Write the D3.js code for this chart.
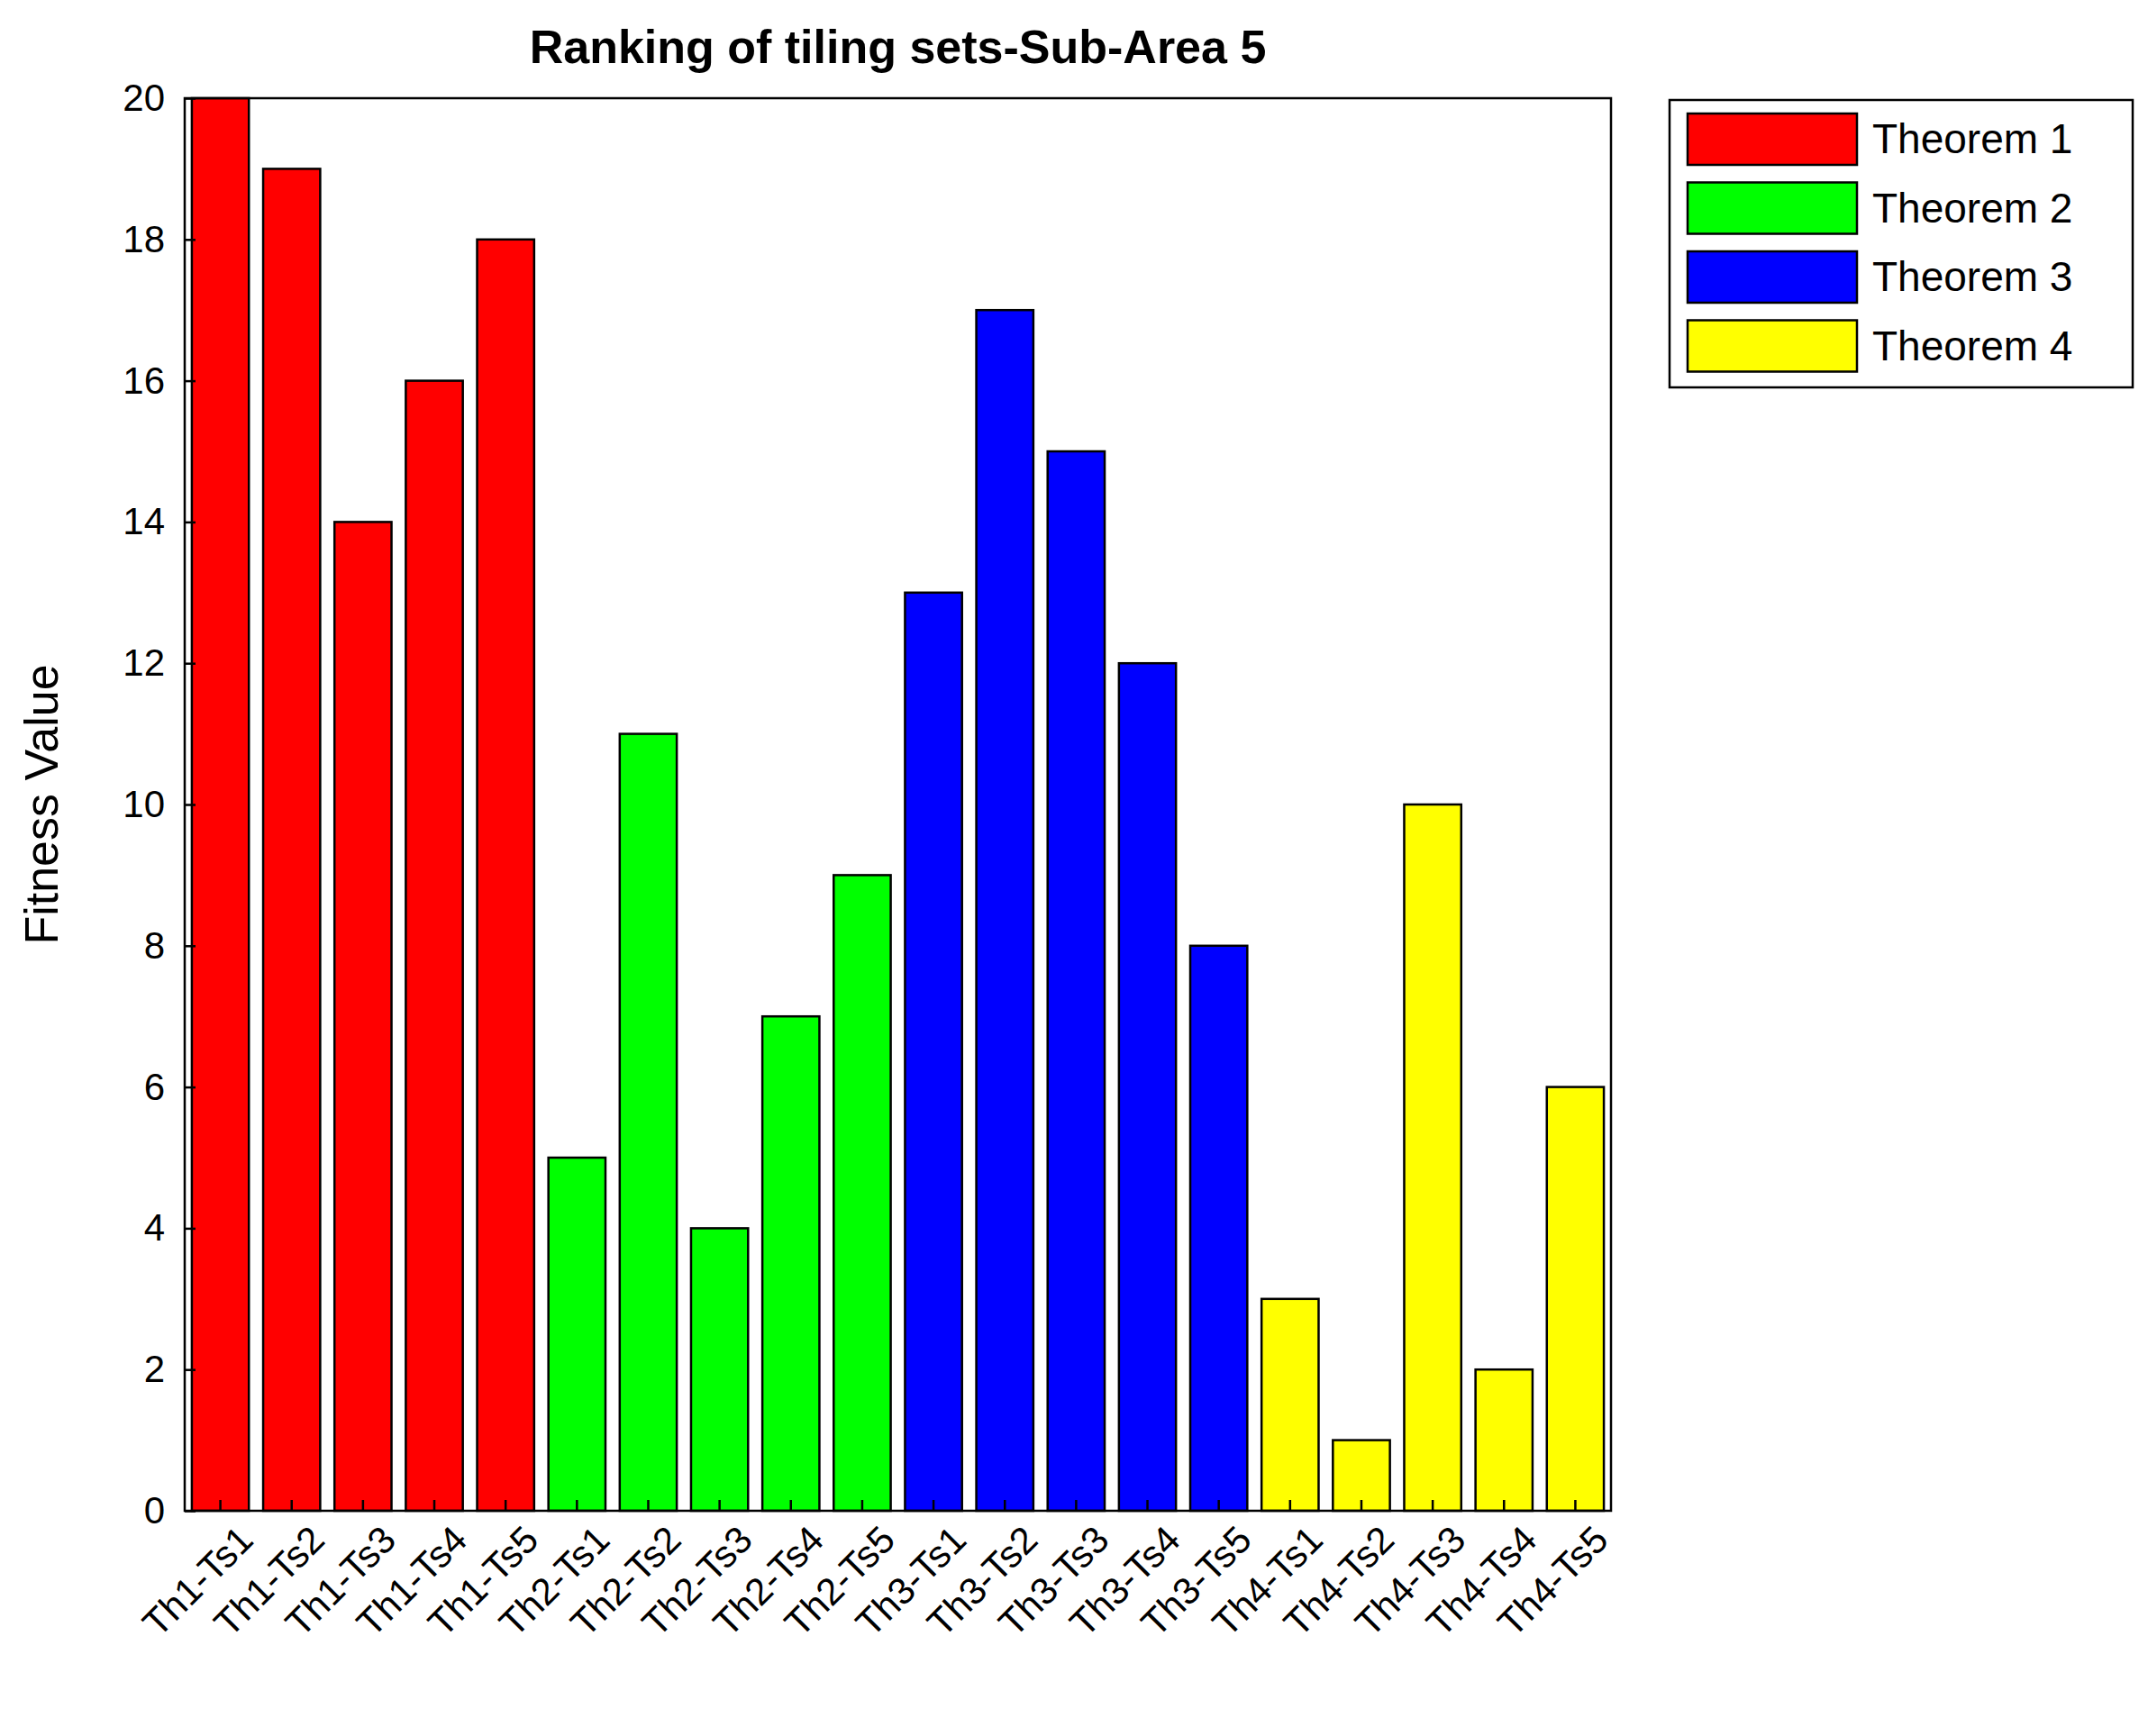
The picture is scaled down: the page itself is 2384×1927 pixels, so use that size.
<!DOCTYPE html>
<html><head><meta charset="utf-8">
<script src="https://cdn.jsdelivr.net/npm/d3@7"></script>
<style>body{margin:0;background:#fff}</style></head>
<body><svg id="c" width="2384" height="1927"></svg>
<script>
const categories = ["Th1-Ts1","Th1-Ts2","Th1-Ts3","Th1-Ts4","Th1-Ts5","Th2-Ts1","Th2-Ts2","Th2-Ts3","Th2-Ts4","Th2-Ts5","Th3-Ts1","Th3-Ts2","Th3-Ts3","Th3-Ts4","Th3-Ts5","Th4-Ts1","Th4-Ts2","Th4-Ts3","Th4-Ts4","Th4-Ts5"];
const values = [20,19,14,16,18,5,11,4,7,9,13,17,15,12,8,3,1,10,2,6];
const groups = ["Theorem 1","Theorem 2","Theorem 3","Theorem 4"];
const groupColors = ["#ff0000","#00ff00","#0000ff","#ffff00"];
const yTicks = [0,2,4,6,8,10,12,14,16,18,20];

const svg = d3.select("#c");
const L=205,R=1788,T=109,B=1677;
const x = d3.scaleBand().domain(categories).range([L,R]).paddingInner(0.2).paddingOuter(0.1);
const y = d3.scaleLinear().domain([0,20]).range([B,T]);
const font="Arial, 'Liberation Sans', sans-serif";

svg.selectAll("rect.bar").data(values).join("rect")
  .attr("x",(d,i)=>x(categories[i])).attr("width",x.bandwidth())
  .attr("y",d=>y(d)).attr("height",d=>B-y(d))
  .attr("fill",(d,i)=>groupColors[Math.floor(i/5)])
  .attr("stroke","#000").attr("stroke-width",2.5);

svg.append("rect").attr("x",L).attr("y",T).attr("width",R-L).attr("height",B-T)
  .attr("fill","none").attr("stroke","#000").attr("stroke-width",2.5);

const ya = svg.append("g").attr("transform",`translate(${L},0)`)
  .call(d3.axisLeft(y).tickValues(yTicks).tickSizeInner(-12).tickSizeOuter(0).tickPadding(22));
ya.select(".domain").remove();
ya.selectAll("line").attr("stroke","#000").attr("stroke-width",2.5);
ya.selectAll("text").attr("font-family",font).attr("font-size",42).attr("fill","#000");

const xa = svg.append("g").attr("transform",`translate(0,${B})`)
  .call(d3.axisBottom(x).tickSizeInner(-12).tickSizeOuter(0).tickPadding(0));
xa.select(".domain").remove();
xa.selectAll("line").attr("stroke","#000").attr("stroke-width",2.5);
xa.selectAll("text").attr("font-family",font).attr("font-size",42).attr("fill","#000")
  .attr("text-anchor","end").attr("dy","0.7em")
  .attr("transform","translate(18,14) rotate(-45)");

svg.append("text").attr("x",(L+R)/2).attr("y",70).attr("text-anchor","middle")
  .attr("font-family",font).attr("font-weight","bold").attr("font-size",52).text("Ranking of tiling sets-Sub-Area 5");
svg.append("text").attr("transform",`translate(64,${(T+B)/2}) rotate(-90)`).attr("text-anchor","middle")
  .attr("font-family",font).attr("font-size",52).text("Fitness Value");

// legend
const lx=1853, ly=111, lw=514, lh=319;
svg.append("rect").attr("x",lx).attr("y",ly).attr("width",lw).attr("height",lh)
  .attr("fill","#fff").attr("stroke","#000").attr("stroke-width",2.5);
const lg = svg.selectAll("g.leg").data(groups).join("g")
  .attr("transform",(d,i)=>`translate(${lx+20},${ly+15+i*76.5})`);
lg.append("rect").attr("width",188).attr("height",57)
  .attr("fill",(d,i)=>groupColors[i]).attr("stroke","#000").attr("stroke-width",2.5);
lg.append("text").attr("x",205).attr("y",44).attr("font-family",font).attr("font-size",46).text(d=>d);
</script></body></html>
